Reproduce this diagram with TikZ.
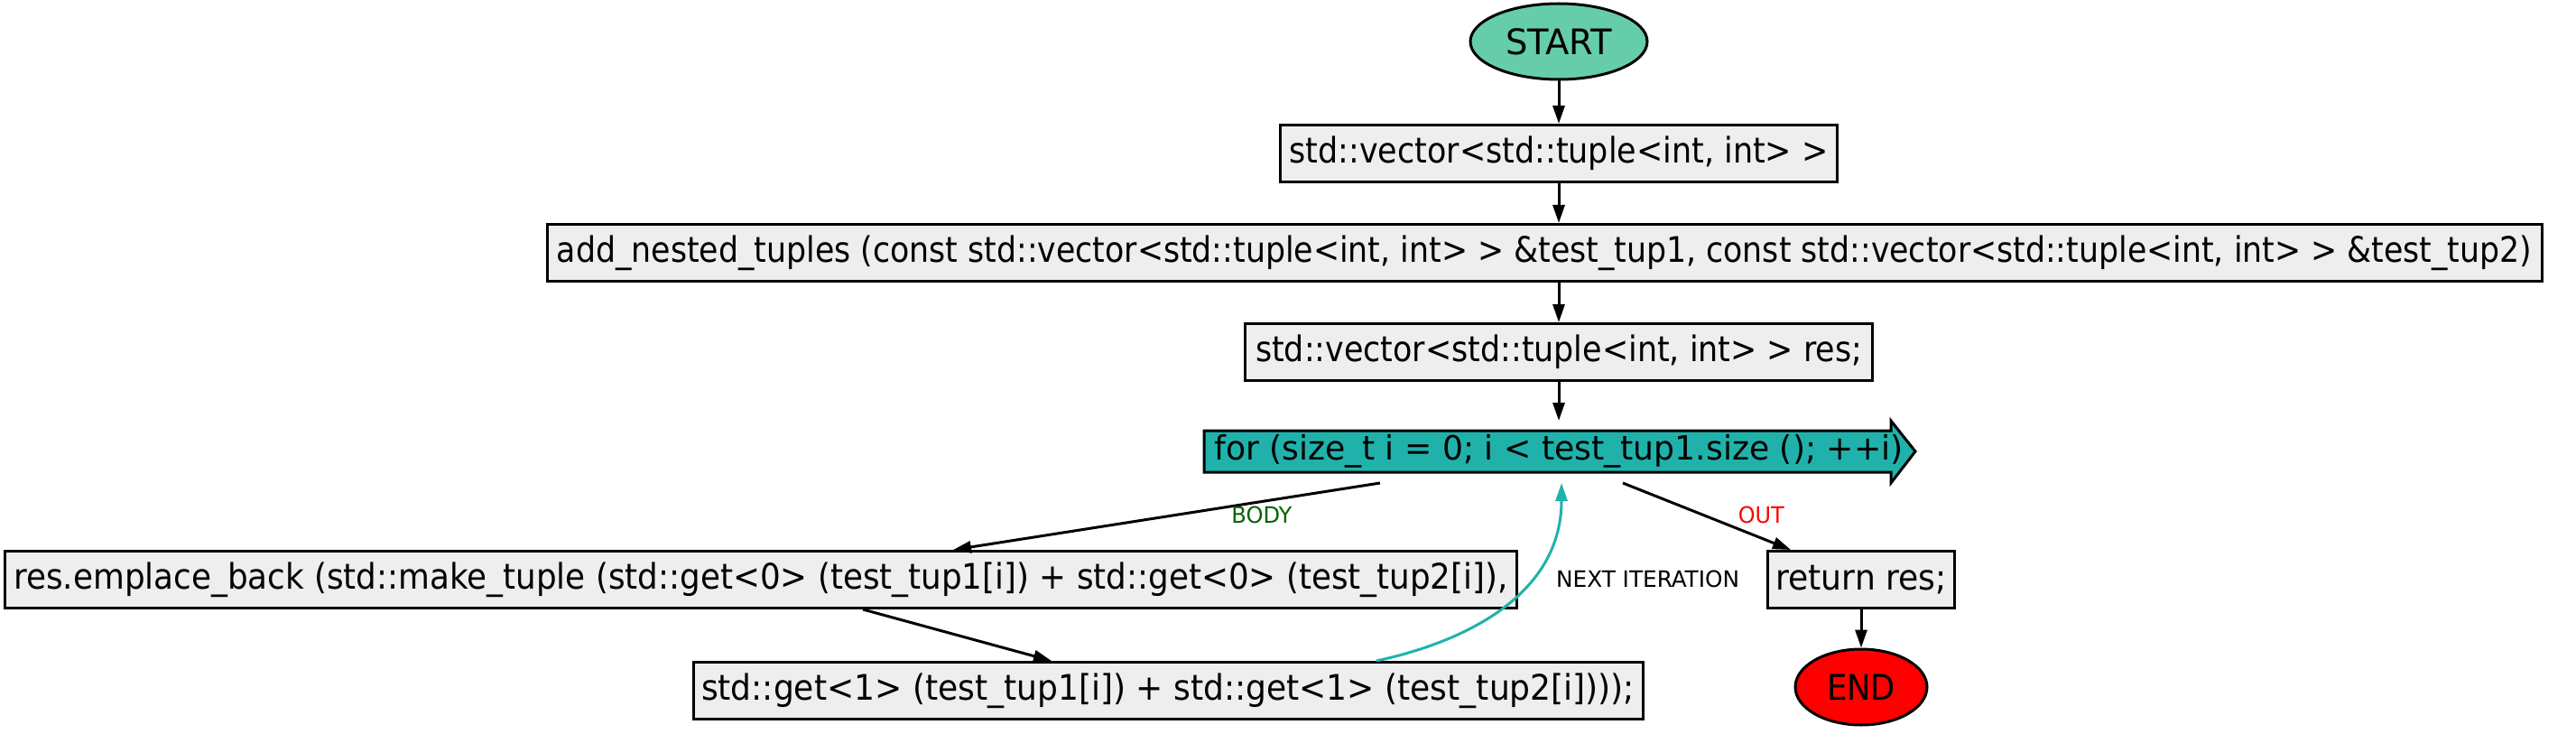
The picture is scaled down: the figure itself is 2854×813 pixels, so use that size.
\documentclass[tikz,border=0pt]{standalone}
\usepackage{fontspec}
\setmainfont{DejaVu Sans Condensed}
\usetikzlibrary{arrows.meta,shapes.geometric,backgrounds}
\definecolor{startc}{RGB}{102,205,170}
\definecolor{forc}{RGB}{32,178,170}
\definecolor{boxc}{RGB}{238,238,238}
\definecolor{bodyc}{RGB}{0,100,0}
\definecolor{endc}{RGB}{255,0,0}
\newcommand{\fitw}[2]{\resizebox{#1}{\height}{#2}}
\tikzset{
  codebox/.style={draw=black, line width=3pt, fill=boxc, minimum height=63pt, inner sep=0pt, font=\fontsize{39}{44}\selectfont},
  termnode/.style={ellipse, draw=black, line width=3pt, minimum height=84pt, inner sep=0pt, font=\fontsize{39}{44}\selectfont},
  edge/.style={line width=3pt, -{Triangle[length=20pt,width=13pt]}},
  elabel/.style={font=\fontsize{25}{30}\selectfont, inner sep=0pt}
}
\begin{document}
\begin{tikzpicture}[x=1pt,y=-1pt]
\useasboundingbox (0,0) rectangle (2854,813);
\node[termnode, fill=startc, minimum width=196pt] (start) at (1727,46) {\fitw{118pt}{START}};
\node[codebox, minimum width=617pt] (b1) at (1727,170) {\fitw{597pt}{std::vector<std::tuple<int, int> >}};
\node[codebox, minimum width=2210pt] (b2) at (1711,280) {\fitw{2188pt}{add\_nested\_tuples (const std::vector<std::tuple<int, int> > \&test\_tup1, const std::vector<std::tuple<int, int> > \&test\_tup2)}};
\node[codebox, minimum width=695pt] (b3) at (1727,390) {\fitw{672pt}{std::vector<std::tuple<int, int> > res;}};
\coordinate (forw) at (1334,477);
\coordinate (fore) at (2095,523);
\coordinate (fortop) at (1727,466);
\coordinate (forbot) at (1727,535);
\node[inner sep=0pt, font=\fontsize{37}{44}\selectfont] (for) at (1727,500) {\fitw{763pt}{for (size\_t i = 0; i < test\_tup1.size (); ++i)}};
\begin{scope}[on background layer]
\draw[line width=3pt, fill=forc, line join=miter] (forw) -- (forw -| fore) -- (fore |- fortop) -- ([xshift=27pt]fore |- for.center) -- (fore |- forbot) -- (fore) -- (fore -| forw) -- cycle;
\end{scope}
\node[codebox, minimum width=1675pt] (emp) at (843,642) {\fitw{1655pt}{res.emplace\_back (std::make\_tuple (std::get<0> (test\_tup1[i]) + std::get<0> (test\_tup2[i]),}};
\node[codebox, minimum width=1052pt] (get) at (1294,765) {\fitw{1034pt}{std::get<1> (test\_tup1[i]) + std::get<1> (test\_tup2[i])));}};
\node[codebox, minimum width=207pt] (ret) at (2062,642) {\fitw{189pt}{return res;}};
\node[termnode, fill=endc, minimum width=146pt] (end) at (2062,761) {\fitw{76pt}{END}};

\draw[edge] (start) -- (b1);
\draw[edge] (b1.south) -- (b1.south |- b2.north);
\draw[edge] (b2.south -| b3.north) -- (b3.north);
\draw[edge] (b3.south) -- (fortop);
\draw[edge] ([xshift=-198pt]forbot) -- node[elabel, pos=0.48, xshift=96pt, text=bodyc] {\fitw{67pt}{BODY}} ([xshift=213pt]emp.north);
\draw[edge] ([xshift=71pt]forbot) -- node[elabel, pos=0.48, xshift=64pt, text=endc] {\fitw{51pt}{OUT}} ([xshift=-78pt]ret.north);
\draw[edge] ([xshift=113pt]emp.south) -- ([xshift=-129pt]get.north);
\draw[edge, draw=forc] ([xshift=231pt]get.north) .. controls +(115,-25) and +(0,115) .. ([xshift=3pt]forbot) node[elabel, pos=0.5, anchor=west, xshift=52pt, yshift=26pt, text=black] {\fitw{203pt}{NEXT ITERATION}};
\draw[edge] (ret) -- (end);
\end{tikzpicture}
\end{document}
